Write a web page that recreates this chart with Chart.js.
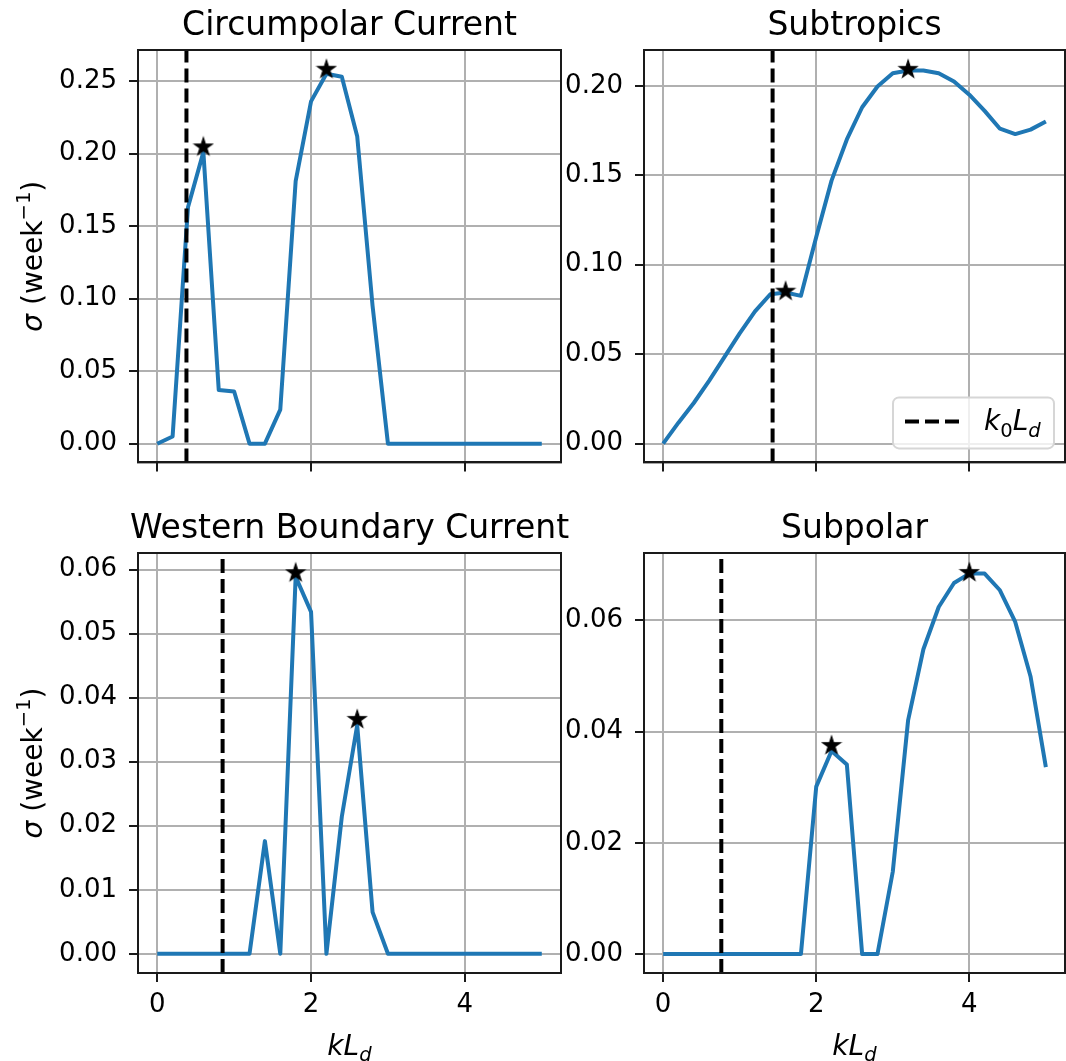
<!DOCTYPE html>
<html>
<head>
<meta charset="utf-8">
<script src="https://cdn.jsdelivr.net/npm/chart.js@4.4.0/dist/chart.umd.min.js"></script>
<style>
  html, body { margin: 0; padding: 0; background: #fff; }
  #wrap { position: relative; width: 1066px; height: 1061px; overflow: hidden; }
  canvas { position: absolute; }
</style>
</head>
<body>
<div id="wrap">
  <canvas id="c0" width="600" height="490" style="left:0;top:0"></canvas>
  <canvas id="c1" width="546" height="490" style="left:520px;top:0"></canvas>
  <canvas id="c2" width="600" height="571" style="left:0;top:490px"></canvas>
  <canvas id="c3" width="546" height="571" style="left:520px;top:490px"></canvas>
</div>
<script>
// wavenumber kL_d
const kValues = [0, 0.2, 0.4, 0.6, 0.8, 1.0, 1.2, 1.4, 1.6, 1.8, 2.0, 2.2, 2.4,
                 2.6, 2.8, 3.0, 3.2, 3.4, 3.6, 3.8, 4.0, 4.2, 4.4, 4.6, 4.8, 5.0];

// growth rate sigma (week^-1) for each region
const circumpolar = [0, 0.005, 0.163, 0.201, 0.037, 0.036, 0, 0, 0.0235, 0.181, 0.236, 0.255, 0.253,
                     0.212, 0.095, 0, 0, 0, 0, 0, 0, 0, 0, 0, 0, 0];
const subtropics = [0, 0.0117, 0.0227, 0.0351, 0.0483, 0.0616, 0.0739, 0.0835, 0.0845, 0.0826, 0.1155, 0.147, 0.170,
                    0.188, 0.1996, 0.207, 0.2085, 0.2085, 0.207, 0.2024, 0.195, 0.186, 0.176, 0.173, 0.1755, 0.180];
const western = [0, 0, 0, 0, 0, 0, 0, 0.0176, 0, 0.0589, 0.0534, 0, 0.0214,
                 0.0357, 0.0065, 0, 0, 0, 0, 0, 0, 0, 0, 0, 0, 0];
const subpolar = [0, 0, 0, 0, 0, 0, 0, 0, 0, 0, 0.0301, 0.0365, 0.0341,
                  0, 0, 0.0148, 0.0420, 0.0548, 0.0624, 0.0667, 0.0684, 0.0684, 0.0654, 0.0597, 0.0499, 0.0336];

// peak markers
const circumpolarPeaksX = [0.6, 2.2], circumpolarPeaksY = [0.205, 0.2585];
const subtropicsPeaksX = [1.6, 3.2], subtropicsPeaksY = [0.0855, 0.2095];
const westernPeaksX = [1.8, 2.6], westernPeaksY = [0.0596, 0.0367];
const subpolarPeaksX = [2.2, 4.0], subpolarPeaksY = [0.0376, 0.0687];

// k0 L_d for each region
const k0Ld = [0.38, 1.43, 0.85, 0.76];

const titles = ["Circumpolar Current", "Subtropics", "Western Boundary Current", "Subpolar"];

const xTicks = [0, 2, 4];
const yTicksCircumpolar = [0, 0.05, 0.10, 0.15, 0.20, 0.25];
const yTicksSubtropics = [0, 0.05, 0.10, 0.15, 0.20];
const yTicksWestern = [0, 0.01, 0.02, 0.03, 0.04, 0.05, 0.06];
const yTicksSubpolar = [0, 0.02, 0.04, 0.06];

Chart.defaults.font.family = '"DejaVu Sans"';

const FONT = '"DejaVu Sans"';
const INK = '#1a1a1a';
const TICK = 26;
const LBL = 28;

function partFont(p, size) {
  const sz = p.s ? size * 0.7 : size;
  return (p.i ? 'italic ' : '') + sz + 'px ' + FONT;
}

function drawRich(ctx, parts, x, y, size, align) {
  ctx.save();
  ctx.textBaseline = 'alphabetic';
  ctx.textAlign = 'left';
  ctx.fillStyle = '#000';
  let w = 0;
  parts.forEach(p => { ctx.font = partFont(p, size); w += ctx.measureText(p.t).width; });
  let cx = align === 'center' ? x - w / 2 : x;
  parts.forEach(p => {
    ctx.font = partFont(p, size);
    const dy = p.s > 0 ? -size * 0.42 : (p.s < 0 ? size * 0.22 : 0);
    ctx.fillText(p.t, cx, y + dy);
    cx += ctx.measureText(p.t).width;
  });
  ctx.restore();
}

function makeStar() {
  const c = document.createElement('canvas');
  c.width = 22; c.height = 22;
  const g = c.getContext('2d');
  const R = 9.3, r = R * 0.382;
  g.beginPath();
  for (let i = 0; i < 10; i++) {
    const a = -Math.PI / 2 + i * Math.PI / 5;
    const rr = i % 2 ? r : R;
    g.lineTo(11 + rr * Math.cos(a), 11.7 + rr * Math.sin(a));
  }
  g.closePath();
  g.fillStyle = '#000';
  g.fill();
  g.lineWidth = 1.2;
  g.strokeStyle = '#000';
  g.stroke();
  return c;
}
const starImg = makeStar();

const panelPlugin = {
  id: 'panel',
  afterDraw(chart, args, o) {
    const a = chart.chartArea, ctx = chart.ctx;
    // frame
    ctx.save();
    ctx.strokeStyle = INK;
    ctx.lineWidth = 2;
    ctx.strokeRect(a.left, a.top, a.right - a.left, a.bottom - a.top);
    ctx.restore();
    // title
    ctx.save();
    ctx.font = '33px ' + FONT;
    ctx.fillStyle = '#000';
    ctx.textAlign = 'center';
    ctx.textBaseline = 'alphabetic';
    ctx.fillText(o.title, (a.left + a.right) / 2, a.top - 15);
    ctx.restore();
    // y label
    if (o.ylabel) {
      ctx.save();
      ctx.translate(42, (a.top + a.bottom) / 2);
      ctx.rotate(-Math.PI / 2);
      drawRich(ctx, [{t: 'σ', i: 1}, {t: ' (week'}, {t: '−1', s: 1}, {t: ')'}], 0, 0, LBL, 'center');
      ctx.restore();
    }
    // x label
    if (o.xlabel) {
      drawRich(ctx, [{t: 'k', i: 1}, {t: 'L', i: 1}, {t: 'd', i: 1, s: -1}],
               (a.left + a.right) / 2, a.bottom + 82, LBL, 'center');
    }
    // legend
    if (o.legend) {
      const w = 161, h = 51;
      const x0 = a.right - 11 - w, y0 = a.bottom - 14 - h;
      ctx.save();
      ctx.beginPath();
      ctx.roundRect(x0, y0, w, h, 6);
      ctx.fillStyle = 'rgba(255,255,255,0.8)';
      ctx.fill();
      ctx.strokeStyle = '#d6d6d6';
      ctx.lineWidth = 2;
      ctx.stroke();
      ctx.beginPath();
      ctx.setLineDash([14, 6]);
      ctx.lineWidth = 4;
      ctx.strokeStyle = '#000';
      ctx.moveTo(x0 + 12, y0 + 24);
      ctx.lineTo(x0 + 67, y0 + 24);
      ctx.stroke();
      ctx.restore();
      drawRich(ctx, [{t: 'k', i: 1}, {t: '0', s: -1}, {t: 'L', i: 1}, {t: 'd', i: 1, s: -1}],
               x0 + 91, y0 + 33, LBL, 'left');
    }
  }
};

function makeChart(id, series, peaksX, peaksY, k0, yMin, yMax, yTicks, opts) {
  const grid = {color: '#b0b0b0', lineWidth: 2, tickLength: 9, tickColor: INK, tickWidth: 2};
  return new Chart(document.getElementById(id), {
    type: 'line',
    data: {
      datasets: [
        {
          data: peaksX.map((x, i) => ({x: x, y: peaksY[i]})),
          showLine: false,
          pointStyle: starImg,
          pointRadius: 9,
          order: 0
        },
        {
          data: [{x: k0, y: yMin}, {x: k0, y: yMax}],
          borderColor: '#000',
          borderWidth: 4,
          borderDash: [14, 6],
          pointRadius: 0,
          order: 1
        },
        {
          data: kValues.map((x, i) => ({x: x, y: series[i]})),
          borderColor: '#1f77b4',
          borderWidth: 4,
          borderJoinStyle: 'round',
          pointRadius: 0,
          tension: 0,
          order: 2
        }
      ]
    },
    options: {
      responsive: false,
      animation: false,
      events: [],
      layout: {autoPadding: false, padding: {top: opts.padTop, right: opts.padRight, left: 0, bottom: 0}},
      plugins: {
        legend: {display: false},
        tooltip: {enabled: false},
        panel: {title: opts.title, ylabel: opts.ylabel, xlabel: opts.xlabel, legend: opts.legend}
      },
      scales: {
        x: {
          type: 'linear',
          min: -0.25,
          max: 5.25,
          afterBuildTicks: s => { s.ticks = xTicks.map(v => ({value: v})); },
          afterFit: s => { s.height = opts.xH; },
          grid: grid,
          border: {display: true, color: INK, width: 2},
          ticks: {display: opts.xlabel, color: '#000', font: {size: TICK}, padding: 8, maxRotation: 0,
                  callback: v => String(v)}
        },
        y: {
          type: 'linear',
          min: yMin,
          max: yMax,
          afterBuildTicks: s => { s.ticks = yTicks.map(v => ({value: v})); },
          afterFit: s => { s.width = opts.yW; },
          grid: grid,
          border: {display: true, color: INK, width: 2},
          ticks: {color: '#000', font: {size: TICK}, padding: 12, callback: v => v.toFixed(2)}
        }
      }
    },
    plugins: [panelPlugin]
  });
}

makeChart('c0', circumpolar, circumpolarPeaksX, circumpolarPeaksY, k0Ld[0], -0.0129, 0.2714, yTicksCircumpolar,
  {title: titles[0], ylabel: true, xlabel: false, legend: false, padTop: 50, padRight: 39, xH: 22, yW: 138});
makeChart('c1', subtropics, subtropicsPeaksX, subtropicsPeaksY, k0Ld[1], -0.0105, 0.2200, yTicksSubtropics,
  {title: titles[1], ylabel: false, xlabel: false, legend: true, padTop: 50, padRight: 1, xH: 22, yW: 124});
makeChart('c2', western, westernPeaksX, westernPeaksY, k0Ld[2], -0.0030, 0.0626, yTicksWestern,
  {title: titles[2], ylabel: true, xlabel: true, legend: false, padTop: 63, padRight: 39, xH: 88, yW: 138});
makeChart('c3', subpolar, subpolarPeaksX, subpolarPeaksY, k0Ld[3], -0.0034, 0.0721, yTicksSubpolar,
  {title: titles[3], ylabel: false, xlabel: true, legend: false, padTop: 63, padRight: 1, xH: 88, yW: 124});
</script>
</body>
</html>
